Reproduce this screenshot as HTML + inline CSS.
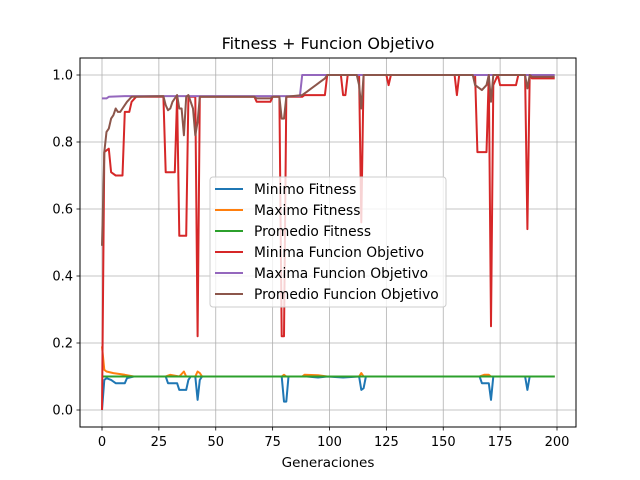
<!DOCTYPE html>
<html><head><meta charset="utf-8"><style>
body{margin:0;background:#fff;}
svg{display:block;font-family:"DejaVu Sans","Liberation Sans",sans-serif;}
</style></head><body>
<svg id="chart" width="640" height="480" xmlns="http://www.w3.org/2000/svg">
<rect width="640" height="480" fill="#fff"/>
<text x="328" y="49" text-anchor="middle" font-size="16">Fitness + Funcion Objetivo</text>
<g id="grid"></g>
<g id="series"></g>
<rect x="80" y="58" width="496" height="369" fill="none" stroke="#000" stroke-width="1"/>
<g id="ticks"></g>
<text x="328" y="467" text-anchor="middle" font-size="13.5">Generaciones</text>
<g id="legend"></g>
</svg>
<script>
const xTicks=[0,25,50,75,100,125,150,175,200];
const yTicks=[0,0.2,0.4,0.6,0.8,1.0];
const yTickLabels=["0.0","0.2","0.4","0.6","0.8","1.0"];
const seriesNames=["Minimo Fitness","Maximo Fitness","Promedio Fitness","Minima Funcion Objetivo","Maxima Funcion Objetivo","Promedio Funcion Objetivo"];
const colors=["#1f77b4","#ff7f0e","#2ca02c","#d62728","#9467bd","#8c564b"];
const minFitG=[0,1,2,4,6,10,11,14,28,29,33,34,37,38,39,41,42,43,44,79,80,81,82,90,95,99,106,113,114,115,116,166,167,170,171,172,186,187,188,199];
const minFitV=[0,0.09,0.095,0.09,0.08,0.08,0.095,0.1,0.1,0.08,0.08,0.06,0.06,0.09,0.1,0.1,0.03,0.09,0.1,0.1,0.025,0.025,0.1,0.1,0.097,0.1,0.097,0.1,0.06,0.065,0.1,0.1,0.08,0.08,0.03,0.1,0.1,0.06,0.1,0.1];
const maxFitG=[0,1,2,5,10,14,28,30,34,36,37,41,42,43,44,79,80,81,88,89,95,99,113,114,115,166,168,170,171,199];
const maxFitV=[0.19,0.12,0.115,0.11,0.105,0.1,0.1,0.105,0.1,0.115,0.1,0.1,0.115,0.11,0.1,0.1,0.105,0.1,0.1,0.105,0.104,0.1,0.1,0.11,0.1,0.1,0.105,0.105,0.1,0.1];
const avgFitG=[0,199];
const avgFitV=[0.1,0.1];
const minFoG=[0,1,3,4,6,9,10,12,13,15,27,28,32,33,34,37,38,41,42,43,67,68,74,75,78,79,80,81,88,89,98,99,105,106,107,108,113,114,115,125,126,127,155,156,157,164,165,169,170,171,172,174,175,182,183,186,187,188,189,199];
const minFoV=[0,0.77,0.78,0.71,0.70,0.70,0.89,0.89,0.92,0.935,0.935,0.71,0.71,0.935,0.52,0.52,0.935,0.935,0.22,0.935,0.935,0.92,0.92,0.935,0.935,0.22,0.22,0.935,0.935,0.94,0.94,1.0,1.0,0.94,0.94,1.0,1.0,0.56,1.0,1.0,0.97,1.0,1.0,0.94,1.0,1.0,0.77,0.77,1.0,0.25,0.97,1.0,0.97,0.97,1.0,1.0,0.54,1.0,0.99,0.99];
const maxFoG=[0,2,3,10,87,88,199];
const maxFoV=[0.93,0.93,0.935,0.937,0.937,1.0,1.0];
const avgFoG=[0,1,2,3,4,5,6,7,8,9,10,11,13,27,28,29,30,31,32,33,34,35,36,37,38,40,41,42,43,67,68,74,75,78,79,80,81,88,90,92,94,96,98,99,112,113,114,115,163,164,167,169,170,171,172,186,187,188,189,199];
const avgFoV=[0.49,0.77,0.83,0.84,0.87,0.88,0.90,0.89,0.89,0.90,0.91,0.92,0.935,0.937,0.91,0.895,0.90,0.92,0.93,0.94,0.90,0.90,0.82,0.935,0.94,0.90,0.82,0.86,0.935,0.935,0.93,0.93,0.935,0.935,0.87,0.87,0.935,0.94,0.95,0.96,0.97,0.98,0.99,1.0,1.0,0.97,0.90,1.0,1.0,0.97,0.955,0.97,1.0,0.92,1.0,1.0,0.96,1.0,0.995,0.995];
const seriesG=[minFitG,maxFitG,avgFitG,minFoG,maxFoG,avgFoG];
const seriesV=[minFitV,maxFitV,avgFitV,minFoV,maxFoV,avgFoV];
const NS="http://www.w3.org/2000/svg";
const xS=g=>102+g*2.275;
const yS=v=>410-v*335;
function mk(tag,attrs,parent){const e=document.createElementNS(NS,tag);for(const k in attrs)e.setAttribute(k,attrs[k]);parent.appendChild(e);return e;}
const grid=document.getElementById('grid'),ticks=document.getElementById('ticks'),ser=document.getElementById('series'),leg=document.getElementById('legend');
xTicks.forEach(t=>{const x=xS(t);
 const gl=mk('line',{x1:x,x2:x,y1:58,y2:427,stroke:'#b0b0b0','stroke-width':0.8},grid);
 
 const tk=mk('line',{x1:x,x2:x,y1:427,y2:430.5,stroke:'#000','stroke-width':0.8},ticks);
 
 const tl=mk('text',{x:x,y:446,'text-anchor':'middle','font-size':13},ticks);tl.textContent=t;
 });
yTicks.forEach((t,i)=>{const y=yS(t);
 const gl=mk('line',{x1:80,x2:576,y1:y,y2:y,stroke:'#b0b0b0','stroke-width':0.8},grid);
 
 const tk=mk('line',{x1:76.5,x2:80,y1:y,y2:y,stroke:'#000','stroke-width':0.8},ticks);
 
 const tl=mk('text',{x:73,y:y+4.5,'text-anchor':'end','font-size':13},ticks);tl.textContent=yTickLabels[i];
 });
seriesG.forEach((gs,i)=>{const pts=gs.map((g,j)=>xS(g).toFixed(1)+','+yS(seriesV[i][j]).toFixed(1)).join(' ');
 const pl=mk('polyline',{points:pts,fill:'none',stroke:colors[i],'stroke-width':2,'stroke-linejoin':'round'},ser);
 });
const box=mk('rect',{x:210,y:177,width:236,height:130,rx:3,fill:'#fff','fill-opacity':0.8,stroke:'#ccc'},leg);

seriesNames.forEach((n,i)=>{const y=189+i*21;
 const ln=mk('line',{x1:215,x2:243,y1:y,y2:y,stroke:colors[i],'stroke-width':2},leg);
 
 const tx=mk('text',{x:254,y:y+5,'font-size':13.8},leg);tx.textContent=n;
 });
</script>
</body></html>
